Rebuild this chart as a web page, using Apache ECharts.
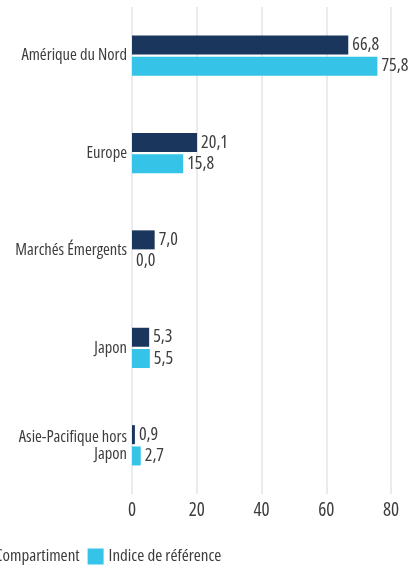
<!DOCTYPE html>
<html>
<head>
<meta charset="utf-8">
<script src="https://cdn.jsdelivr.net/npm/echarts@6/dist/echarts.min.js"></script>
<style>
    html, body { margin: 0; padding: 0; background: #fff; }
    #chart { width: 410px; height: 565px; }
</style>
</head>
<body>
<div id="chart"></div>
<script>
let categories = ['Amérique du Nord', 'Europe', 'Marchés Émergents', 'Japon', 'Asie-Pacifique hors\nJapon'];
let fundValues = [66.8, 20.1, 7.0, 5.3, 0.9];
let indexValues = [75.8, 15.8, 0.0, 5.5, 2.7];
let xTicks = [0, 20, 40, 60, 80];

let font = '"Liberation Sans Narrow", "Open Sans", sans-serif';
let stretch = 'condensed';
let textColor = '#3d3d3d';

function fmt(v) {
    return v.toFixed(1).replace('.', ',');
}

let chart = echarts.init(document.getElementById('chart'));

let options = {
    animation: false,
    textStyle: { fontFamily: font },
    grid: {
        top: 7,
        bottom: 71,
        left: 132,
        right: 19,
        containLabel: false,
        outerBoundsMode: 'none'
    },
    legend: {
        bottom: -5,
        left: -31,
        itemWidth: 16,
        itemHeight: 16,
        itemGap: 8,
        icon: 'rect',
        textStyle: { fontFamily: font, fontStyle: stretch, fontSize: 17, color: textColor },
        data: ['Compartiment', 'Indice de référence']
    },
    xAxis: {
        type: 'value',
        min: xTicks[0],
        max: xTicks[xTicks.length - 1],
        interval: 20,
        axisLine: { show: false },
        axisTick: { show: false },
        axisLabel: { fontFamily: font, fontStyle: stretch, fontSize: 19, color: textColor, margin: 7 },
        splitLine: { show: true, lineStyle: { color: '#ebebeb', width: 2 } }
    },
    yAxis: {
        type: 'category',
        inverse: true,
        data: categories,
        axisLine: { show: false },
        axisTick: { show: false },
        axisLabel: { fontFamily: font, fontStyle: stretch, fontSize: 16.5, color: textColor, margin: 5, lineHeight: 17 }
    },
    series: [
        {
            name: 'Compartiment',
            type: 'bar',
            data: fundValues,
            barWidth: 19,
            barGap: '12%',
            itemStyle: { color: '#1b365d' },
            label: {
                show: true, position: 'right', distance: 4,
                fontFamily: font, fontStyle: stretch, fontSize: 18, color: textColor,
                formatter: function (p) { return fmt(p.value); }
            }
        },
        {
            name: 'Indice de référence',
            type: 'bar',
            data: indexValues,
            barWidth: 19,
            itemStyle: { color: '#35c3e8' },
            label: {
                show: true, position: 'right', distance: 4,
                fontFamily: font, fontStyle: stretch, fontSize: 18, color: textColor,
                formatter: function (p) { return fmt(p.value); }
            }
        }
    ]
};
chart.setOption(options);
</script>
</body>
</html>
